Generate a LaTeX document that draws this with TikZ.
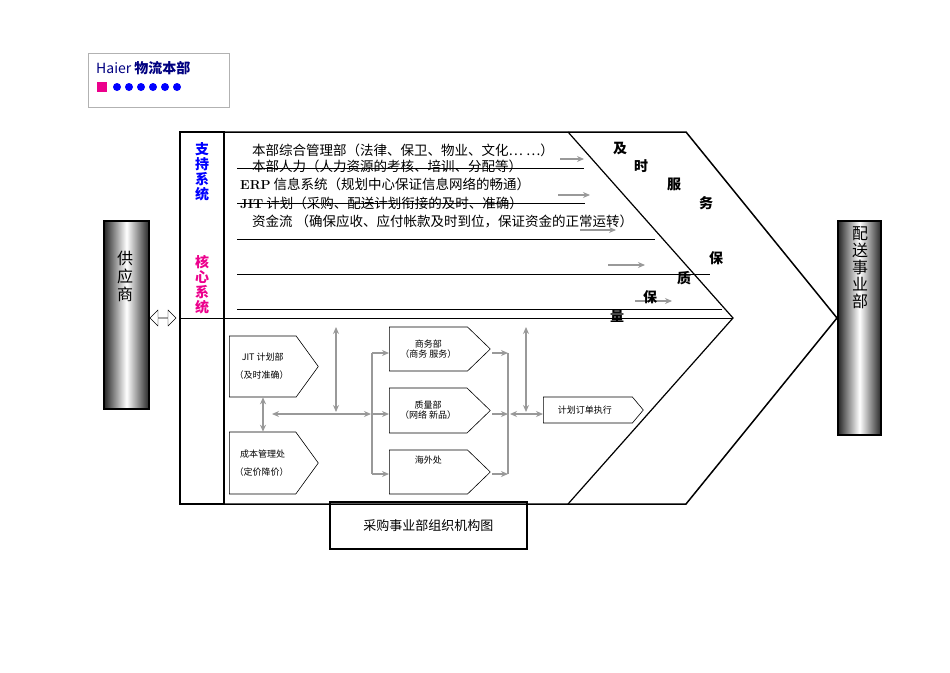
\documentclass[tikz,border=0pt]{standalone}
\usepackage{fontspec}
\newfontfamily\cjk{Noto Sans CJK SC}
\usetikzlibrary{shapes.symbols, shapes.arrows, arrows.meta, positioning}
\tikzset{
  bar/.style = {draw, line width=2pt, left color=black!85, right color=black!85, middle color=white},
  dept/.style = {signal, signal to=east, draw=black, line width=0.6pt, anchor=west, font=\cjk\fontsize{9}{10}\selectfont, align=center, inner sep=1pt},
  garrow/.style = {draw=black!40, line width=1.5pt, -{Stealth[length=7pt,width=6pt]}},
  gboth/.style = {draw=black!40, line width=1.5pt, {Stealth[length=7pt,width=6pt]}-{Stealth[length=7pt,width=6pt]}},
  gline/.style = {draw=black!40, line width=1.5pt},
  row/.style = {anchor=west, font=\cjk\fontsize{13.5}{14}\selectfont, inner sep=0pt},
  side/.style = {font=\cjk\bfseries\fontsize{14}{15}\selectfont, inner sep=0pt},
}
\begin{document}
\begin{tikzpicture}[x=1pt, y=-1pt]
  \useasboundingbox (0,0) rectangle (950,672);
  % logo
  \draw[black!30] (88,53) rectangle (229,107);
  \node (logo) [anchor=west, inner sep=0pt, text=blue!50!black, font=\cjk\fontsize{14}{15}\selectfont] at (96,68) {Haier {\bfseries 物流本部}};
  \fill[magenta] (97,82) rectangle (107,92);
  \foreach \i in {0,...,5} \fill[blue] (117+\i*12,87) circle (4);
  % end bars
  \node (supplier) [bar, minimum width=45, minimum height=188, anchor=north west] at (103,220) {};
  \node [font=\cjk\fontsize{16}{18}\selectfont, align=center] at (125,276) {供\\应\\商};
  \node (delivery) [bar, minimum width=43, minimum height=214, anchor=north west] at (837,220) {};
  \node [font=\cjk\fontsize{16}{17}\selectfont, align=center] at (860,268) {配\\送\\事\\业\\部};
  \node (link) [double arrow, draw, fill=white, minimum width=16, minimum height=26, inner sep=0pt, double arrow head extend=3pt] at (163,318) {};
  % frame and chevrons
  \draw[line width=2pt] (180,132) rectangle (224,504);
  \draw[line width=1.5pt] (224,132) -- (686,132) -- (837,318) -- (686,504) -- (224,504);
  \draw[line width=1.2pt] (568,132) -- (733,318) -- (568,504);
  \draw (180,318) -- (733,318);
  \node (support) [side, text=blue, align=center] at (202,172) {支\\持\\系\\统};
  \node (core) [side, text=magenta, align=center] at (202,285) {核\\心\\系\\统};
  % support rows
  \node (r1) [row] at (252,150) {本部综合管理部（法律、保卫、物业、文化… …）};
  \node (r2) [row] at (252,166) {本部人力（人力资源的考核、培训、分配等）};
  \node (r3) [row] at (240,184) {{\normalfont\bfseries\fontsize{13}{13}\selectfont ERP} 信息系统（规划中心保证信息网络的畅通）};
  \node (r4) [row] at (240,203) {{\normalfont\bfseries\fontsize{13}{13}\selectfont JIT} 计划（采购、配送计划衔接的及时、准确）};
  \node (r5) [row] at (252,221) {资金流 （确保应收、应付帐款及时到位，保证资金的正常运转）};
  \draw (237,168) -- (584,168);
  \draw (237,203) -- (585,203);
  \draw (237,239) -- (655,239);
  \draw (237,274) -- (710,274);
  \draw (237,309) -- (722,309);
  \draw[garrow] (560,159) -- (584,159);
  \draw[garrow] (558,195) -- (590,195);
  \draw[garrow] (580,230) -- (616,230);
  \draw[garrow] (608,265) -- (645,265);
  \draw[garrow] (635,301) -- (672,301);
  % quality text
  \foreach \t/\x/\y in {及/620/149, 时/641/166, 服/674/184, 务/706/203, 保/716/258, 质/684/278, 保/650/297, 量/617/316}
    \node[side] at (\x,\y) {\t};
  % core departments
  \node (jit) [dept, minimum width=89, minimum height=61, signal pointer angle=108] at (229,366.5) {JIT 计划部\\[8pt]（及时准确）\ \ };
  \node (cost) [dept, minimum width=89, minimum height=62, signal pointer angle=108] at (229,463) {成本管理处\\[8pt]（定价降价）\ \ };
  \node (biz) [dept, minimum width=101, minimum height=44, signal pointer angle=88] at (389,349) {商务部\\（商务\ 服务）};
  \node (qual) [dept, minimum width=101, minimum height=45, signal pointer angle=88] at (389,410.5) {质量部\\（网络\ 新品）};
  \node (abroad) [dept, minimum width=101, minimum height=44, signal pointer angle=88] at (389,472) {海外处\\[14pt]};
  \node (exec) [dept, minimum width=100, minimum height=26, signal pointer angle=100] at (543,410) {计划订单执行\ \ \ };
  % connectors
  \draw[gboth] (jit.south -| 263,0) -- (cost.north -| 263,0);
  \draw[gboth] (272,414) -- (371,414);
  \draw[gboth] (336,327) -- (336,412);
  \draw[gline] (372,353) -- (372,474);
  \draw[garrow] (372,353) -- (biz.west |- 0,353);
  \draw[garrow] (372,414) -- (qual.west |- 0,414);
  \draw[garrow] (372,474) -- (abroad.west |- 0,474);
  \draw[gline] (508,353) -- (508,474);
  \draw[garrow] (492,353) -- (508,353);
  \draw[garrow] (492,414) -- (508,414);
  \draw[garrow] (492,474) -- (508,474);
  \draw[gboth] (526,327) -- (526,412);
  \draw[gboth] (510,414) -- (exec.west |- 0,414);
  % caption
  \node (title) [draw, line width=1.5pt, minimum width=197, minimum height=47, anchor=north west, font=\cjk\fontsize{13}{14}\selectfont] at (329,501) {采购事业部组织机构图};
\end{tikzpicture}
\end{document}
